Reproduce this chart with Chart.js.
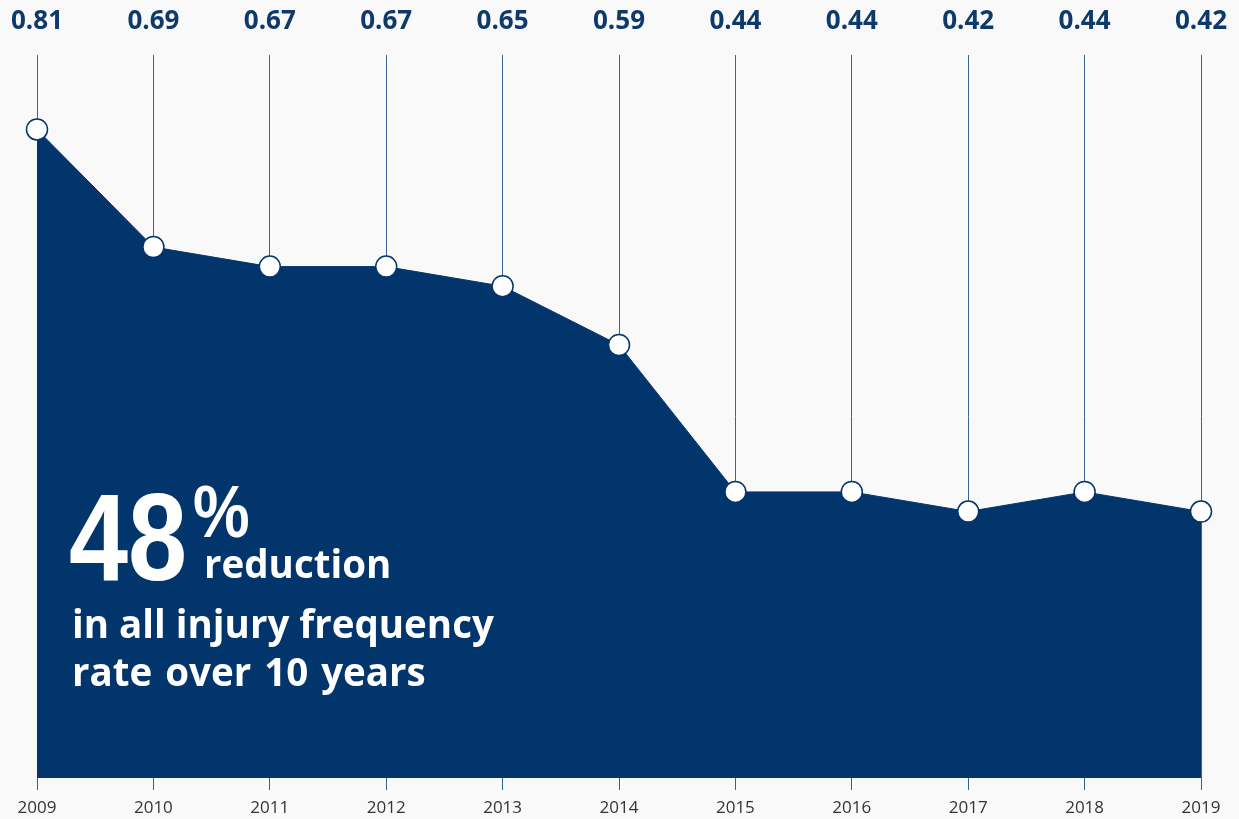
<!DOCTYPE html>
<html>
<head>
<meta charset="utf-8">
<script src="https://cdn.jsdelivr.net/npm/chart.js@4/dist/chart.umd.min.js"></script>
<style>
  html, body { margin: 0; padding: 0; background: #f9f9f9; }
  #wrap { position: relative; width: 1239px; height: 819px; }
  #wrap canvas { position: absolute; left: 0; top: 0; }
  .note { position: absolute; color: #fff; white-space: nowrap; line-height: 1; }
  .big { font-family: "Liberation Sans", Arial, sans-serif; font-weight: bold; transform: scaleX(0.85); transform-origin: 0 0; }
  .txt { font-family: "Open Sans", sans-serif; font-weight: bold; font-size: 38.5px; }
</style>
</head>
<body>
<div id="wrap">
  <canvas id="chart" width="1239" height="819"></canvas>
  <span class="note big" style="left:69px; top:474px; font-size:125px;">48</span>
  <span class="note big" style="left:193px; top:474px; font-size:75px;">%</span>
  <span class="note txt" style="left:204px; top:544px;">reduction</span>
  <span class="note txt" style="left:72px; top:604px;">in all injury frequency</span>
  <span class="note txt" style="left:72px; top:652px; word-spacing:3px;">rate over 10 years</span>
</div>
<script>
// injury frequency rate per year
const years = ['2009', '2010', '2011', '2012', '2013', '2014', '2015', '2016', '2017', '2018', '2019'];
const rates = [0.81, 0.69, 0.67, 0.67, 0.65, 0.59, 0.44, 0.44, 0.42, 0.44, 0.42];

const navy = '#02356b';

// value labels above each year's line
const topLabels = {
  id: 'topLabels',
  afterDraw(chart) {
    const ctx = chart.ctx;
    const x = chart.scales.x;
    ctx.save();
    ctx.font = 'bold 26px "Open Sans", sans-serif';
    ctx.fillStyle = '#0d3a6b';
    ctx.textAlign = 'center';
    ctx.textBaseline = 'middle';
    rates.forEach((v, i) => {
      ctx.fillText(v.toFixed(2), x.getPixelForValue(i), 22);
    });
    ctx.restore();
  }
};

new Chart(document.getElementById('chart').getContext('2d'), {
  type: 'line',
  data: {
    labels: years,
    datasets: [{
      data: rates,
      fill: 'start',
      backgroundColor: navy,
      borderColor: navy,
      borderWidth: 1,
      tension: 0,
      pointRadius: 10.5,
      pointHoverRadius: 10.5,
      pointBackgroundColor: '#ffffff',
      pointBorderColor: navy,
      pointBorderWidth: 1.5,
      clip: false
    }]
  },
  options: {
    responsive: false,
    animation: false,
    layout: { padding: { top: 55, left: 37, right: 38, bottom: 0 } },
    plugins: { legend: { display: false }, tooltip: { enabled: false } },
    scales: {
      x: {
        offset: false,
        border: { display: false },
        grid: { color: '#3a6394', lineWidth: 1, tickLength: 12, drawOnChartArea: true },
        ticks: { color: '#333333', font: { family: 'Open Sans', size: 17 }, padding: 8, maxRotation: 0 },
        afterFit(scale) { scale.height = 41; }
      },
      y: {
        display: false,
        min: 0.148,
        max: 0.886
      }
    }
  },
  plugins: [topLabels]
});
</script>
</body>
</html>
